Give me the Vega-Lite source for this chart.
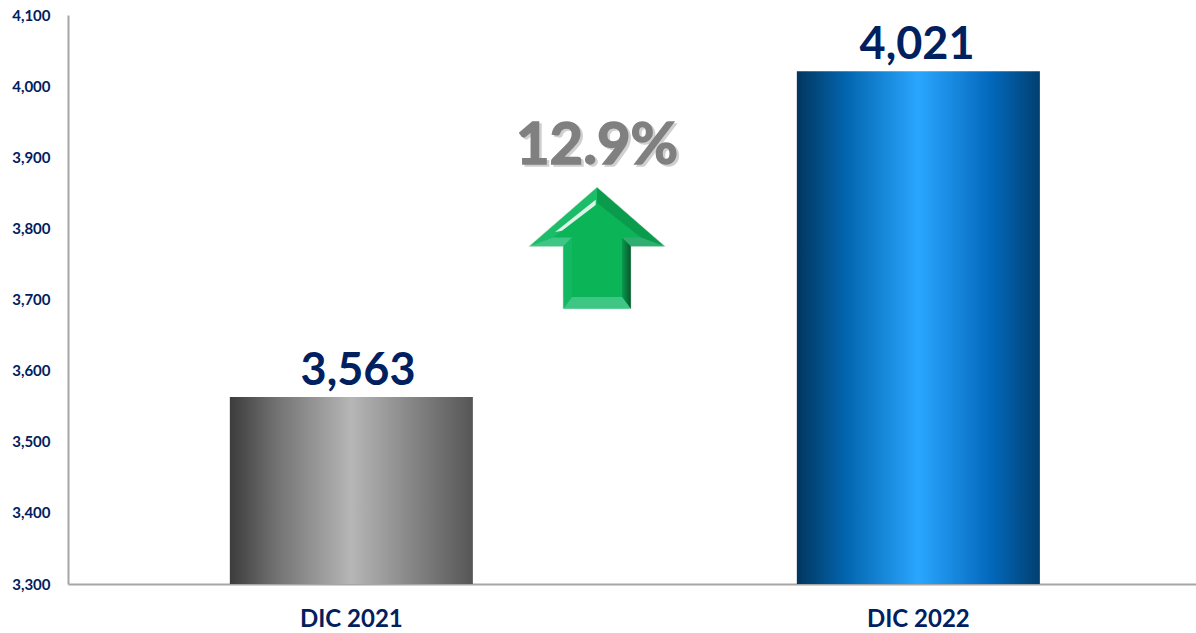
{
"$schema":"https://vega.github.io/schema/vega-lite/v6.json",
"width":1128,"height":569,
"autosize":"none",
"padding":{"left":68,"top":15,"right":0,"bottom":49},
"background":"white",
"config":{"view":{"stroke":null},"font":"Lato"},
"datasets":{
"bars":[{"period":"DIC 2021","value":3563},{"period":"DIC 2022","value":4021}],
"change":[{"pos":0.469,"arrowValue":3772,"textValue":3915,"label":"12.9%"}]
},
"resolve":{"scale":{"x":"independent"},"axis":{"y":"independent"}},
"layer":[
{"data":{"name":"bars"},"transform":[{"filter":"datum.period==='DIC 2021'"}],
 "mark":{"type":"bar","color":{"gradient":"linear","x1":0,"x2":1,"y1":0,"y2":0,"stops":[{"offset":0,"color":"#3c3c3c"},{"offset":0.2,"color":"#747474"},{"offset":0.5,"color":"#b6b6b6"},{"offset":0.8,"color":"#7c7c7c"},{"offset":1,"color":"#565656"}]}},
 "encoding":{
  "x":{"field":"period","type":"nominal","sort":null,
   "scale":{"domain":["DIC 2021","DIC 2022"],"paddingInner":0.5714,"paddingOuter":0.2804,"align":0.509},
   "axis":{"title":null,"labelAngle":0,"ticks":false,"grid":false,"domainColor":"#a6a6a6","domainWidth":2,"labelColor":"#002060","labelFontSize":24,"labelFontWeight":"bold","labelFont":"Lato","labelPadding":23}},
  "y":{"field":"value","type":"quantitative",
   "scale":{"domain":[3300,4100],"nice":false,"zero":false},
   "axis":{"title":null,"grid":false,"ticks":false,"tickSize":0,"tickOpacity":0,"values":[3300,3400,3500,3600,3700,3800,3900,4000,4100],"labelExpr":"format(datum.value, ',')","domainColor":"#a6a6a6","domainWidth":2,"labelColor":"#002060","labelFontSize":15,"labelFontWeight":"bold","labelFont":"Lato","labelPadding":18}},
  "y2":{"datum":3300}
 }},
{"data":{"name":"bars"},"transform":[{"filter":"datum.period==='DIC 2022'"}],
 "mark":{"type":"bar","color":{"gradient":"linear","x1":0,"x2":1,"y1":0,"y2":0,"stops":[{"offset":0,"color":"#02365e"},{"offset":0.2,"color":"#0265ae"},{"offset":0.5,"color":"#2aa6ff"},{"offset":0.8,"color":"#0368bb"},{"offset":1,"color":"#023f70"}]}},
 "encoding":{
  "x":{"field":"period","type":"nominal","sort":null,"scale":{"domain":["DIC 2021","DIC 2022"],"paddingInner":0.5714,"paddingOuter":0.2804,"align":0.509},"axis":null},
  "y":{"field":"value","type":"quantitative","axis":null},
  "y2":{"datum":3300}
 }},
{"data":{"name":"bars"},"transform":[{"filter":"datum.period==='DIC 2021'"}],
 "mark":{"type":"text","font":"Lato","fontWeight":"bold","fontSize":45,"color":"#002060","baseline":"bottom","dy":-3,"dx":3},
 "encoding":{
  "x":{"field":"period","type":"nominal","sort":null,"scale":{"domain":["DIC 2021","DIC 2022"],"paddingInner":0.5714,"paddingOuter":0.2804,"align":0.509},"axis":null},
  "y":{"field":"value","type":"quantitative","axis":null},
  "text":{"field":"value","type":"quantitative","format":","}}},
{"data":{"name":"bars"},"transform":[{"filter":"datum.period==='DIC 2022'"}],
 "mark":{"type":"text","font":"Lato","fontWeight":"bold","fontSize":45,"color":"#002060","baseline":"bottom","dy":-3,"dx":-2},
 "encoding":{
  "x":{"field":"period","type":"nominal","sort":null,"scale":{"domain":["DIC 2021","DIC 2022"],"paddingInner":0.5714,"paddingOuter":0.2804,"align":0.509},"axis":null},
  "y":{"field":"value","type":"quantitative","axis":null},
  "text":{"field":"value","type":"quantitative","format":","}}},
{"data":{"name":"change"},
 "mark":{"type":"text","font":"Lato","fontWeight":"bold","fontSize":58,"color":"#d0d0d0","stroke":"#d0d0d0","strokeWidth":1.5,"baseline":"middle","dx":2.5,"dy":2.5},
 "encoding":{"x":{"field":"pos","type":"quantitative","scale":{"domain":[0,1],"nice":false,"zero":false},"axis":null},"y":{"field":"textValue","type":"quantitative","axis":null},"text":{"field":"label"}}},
{"data":{"name":"change"},
 "mark":{"type":"text","font":"Lato","fontWeight":"bold","fontSize":58,"color":"#808080","stroke":"#808080","strokeWidth":1.5,"baseline":"middle"},
 "encoding":{"x":{"field":"pos","type":"quantitative","scale":{"domain":[0,1],"nice":false,"zero":false},"axis":null},"y":{"field":"textValue","type":"quantitative","axis":null},"text":{"field":"label"}}},
{"data":{"name":"change"},
 "encoding":{"x":{"field":"pos","type":"quantitative","scale":{"domain":[0,1],"nice":false,"zero":false},"axis":null},"y":{"field":"arrowValue","type":"quantitative","axis":null}},
 "mark":{"type":"point","filled":true,"size":18225,"opacity":1,"color":"#0bb557","stroke":"#cfe6d8","strokeWidth":1.2,"shape":"M0,-0.9 L1,-0.03 L0.5,-0.03 L0.5,0.895 L-0.5,0.895 L-0.5,-0.03 L-1,-0.03 Z"}},
{"data":{"name":"change"},
 "encoding":{"x":{"field":"pos","type":"quantitative","scale":{"domain":[0,1],"nice":false,"zero":false},"axis":null},"y":{"field":"arrowValue","type":"quantitative","axis":null}},
 "mark":{"type":"point","filled":true,"size":18225,"opacity":1,"color":"#1cbd69","shape":"M0,-0.9 L0,-0.67 L-0.65,-0.16 L-1,-0.03 Z"}},
{"data":{"name":"change"},
 "encoding":{"x":{"field":"pos","type":"quantitative","scale":{"domain":[0,1],"nice":false,"zero":false},"axis":null},"y":{"field":"arrowValue","type":"quantitative","axis":null}},
 "mark":{"type":"point","filled":true,"size":18225,"opacity":1,"color":"#0a9c4c","shape":"M0,-0.9 L1,-0.03 L0.65,-0.16 L0,-0.67 Z"}},
{"data":{"name":"change"},
 "encoding":{"x":{"field":"pos","type":"quantitative","scale":{"domain":[0,1],"nice":false,"zero":false},"axis":null},"y":{"field":"arrowValue","type":"quantitative","axis":null}},
 "mark":{"type":"point","filled":true,"size":18225,"opacity":0.85,"color":"#ffffff","shape":"M-0.02,-0.72 L-0.62,-0.24 L-0.52,-0.26 L-0.02,-0.64 Z"}},
{"data":{"name":"change"},
 "encoding":{"x":{"field":"pos","type":"quantitative","scale":{"domain":[0,1],"nice":false,"zero":false},"axis":null},"y":{"field":"arrowValue","type":"quantitative","axis":null}},
 "mark":{"type":"point","filled":true,"size":18225,"opacity":1,"color":"#3fc585","shape":"M-1,-0.03 L-0.65,-0.16 L-0.37,-0.16 L-0.5,-0.03 Z"}},
{"data":{"name":"change"},
 "encoding":{"x":{"field":"pos","type":"quantitative","scale":{"domain":[0,1],"nice":false,"zero":false},"axis":null},"y":{"field":"arrowValue","type":"quantitative","axis":null}},
 "mark":{"type":"point","filled":true,"size":18225,"opacity":1,"color":"#2fae70","shape":"M1,-0.03 L0.65,-0.16 L0.37,-0.16 L0.5,-0.03 Z"}},
{"data":{"name":"change"},
 "encoding":{"x":{"field":"pos","type":"quantitative","scale":{"domain":[0,1],"nice":false,"zero":false},"axis":null},"y":{"field":"arrowValue","type":"quantitative","axis":null}},
 "mark":{"type":"point","filled":true,"size":18225,"opacity":1,"color":"#12b962","shape":"M-0.5,-0.03 L-0.37,-0.16 L-0.37,0.72 L-0.5,0.895 Z"}},
{"data":{"name":"change"},
 "encoding":{"x":{"field":"pos","type":"quantitative","scale":{"domain":[0,1],"nice":false,"zero":false},"axis":null},"y":{"field":"arrowValue","type":"quantitative","axis":null}},
 "mark":{"type":"point","filled":true,"size":18225,"opacity":1,"color":{"gradient":"linear","x1":0,"x2":1,"y1":0,"y2":0,"stops":[{"offset":0,"color":"#0a9a4e"},{"offset":1,"color":"#06572c"}]},"shape":"M0.5,-0.03 L0.37,-0.16 L0.37,0.72 L0.5,0.895 Z"}},
{"data":{"name":"change"},
 "encoding":{"x":{"field":"pos","type":"quantitative","scale":{"domain":[0,1],"nice":false,"zero":false},"axis":null},"y":{"field":"arrowValue","type":"quantitative","axis":null}},
 "mark":{"type":"point","filled":true,"size":18225,"opacity":1,"color":"#3ec684","shape":"M-0.5,0.895 L-0.37,0.72 L0.37,0.72 L0.5,0.895 Z"}}
]
}
